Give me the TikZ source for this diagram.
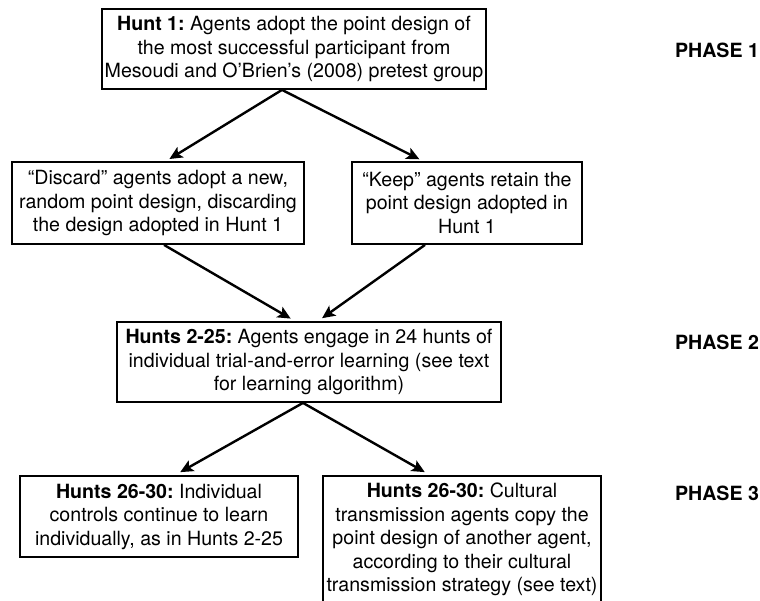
\documentclass[tikz,border=0pt]{standalone}
\usepackage{fontspec}
\setmainfont{TeX Gyre Heros}
\usepackage{tikz}
\usetikzlibrary{arrows.meta,calc,positioning}
\frenchspacing

\begin{document}
\begin{tikzpicture}[x=1pt,y=-1pt,
 box/.style={draw, line width=1.8pt, align=center, inner sep=0pt,
  font=\fontsize{19.6}{23.5}\selectfont},
 flow/.style={-{Stealth[length=13pt,width=12pt,inset=3pt]}, line width=2.4pt},
 phase/.style={font=\fontsize{19.6}{22}\selectfont\bfseries}]
\useasboundingbox (0,0) rectangle (760,601);

% Phase 1
\node[box, minimum width=384, minimum height=80] (hunt1) at (294,49)
 {\textbf{Hunt 1:} Agents adopt the point design of\\
  the most successful participant from\\
  Mesoudi and O'Brien's (2008) pretest group};
\node[box, minimum width=292, minimum height=82] (discard) at (158,203)
 {``Discard'' agents adopt a new,\\
  random point design, discarding\\
  the design adopted in Hunt 1};
\node[box, minimum width=230, minimum height=82] (keep) at (467,203)
 {``Keep'' agents retain the\\
  point design adopted in\\
  Hunt 1};

% Phase 2
\node[box, minimum width=384, minimum height=80] (learn) at (309,362)
 {\textbf{Hunts 2-25:} Agents engage in 24 hunts of\\
  individual trial-and-error learning (see text\\
  for learning algorithm)};

% Phase 3
\node[box, minimum width=278, minimum height=81] (indiv) at (159,516.5)
 {\textbf{Hunts 26-30:} Individual\\
  controls continue to learn\\
  individually, as in Hunts 2-25};
\node[box, minimum width=278, minimum height=127] (cult) at (462,539.5)
 {\textbf{Hunts 26-30:} Cultural\\
  transmission agents copy the\\
  point design of another agent,\\
  according to their cultural\\
  transmission strategy (see text)};

% phase labels
\foreach \y/\n in {50/1, 342/2, 493/3}
 \node[phase] (ph\n) at (717,\y) {PHASE \n};

% arrows
\draw[flow, shorten >=4pt] ([xshift=-12]hunt1.south) -- ([xshift=8]discard.north);
\draw[flow, shorten >=4pt] ([xshift=-12]hunt1.south) -- ([xshift=-44]keep.north);
\draw[flow, shorten >=5pt] ([xshift=6]discard.south) -- ([xshift=-14]learn.north);
\draw[flow, shorten >=5pt] ([xshift=-42]keep.south) -- ([xshift=9]learn.north);
\draw[flow, shorten >=6pt] ([xshift=-6]learn.south) -- ([xshift=16]indiv.north);
\draw[flow, shorten >=6pt] ([xshift=-6]learn.south) -- ([xshift=-32]cult.north);
\end{tikzpicture}
\end{document}
